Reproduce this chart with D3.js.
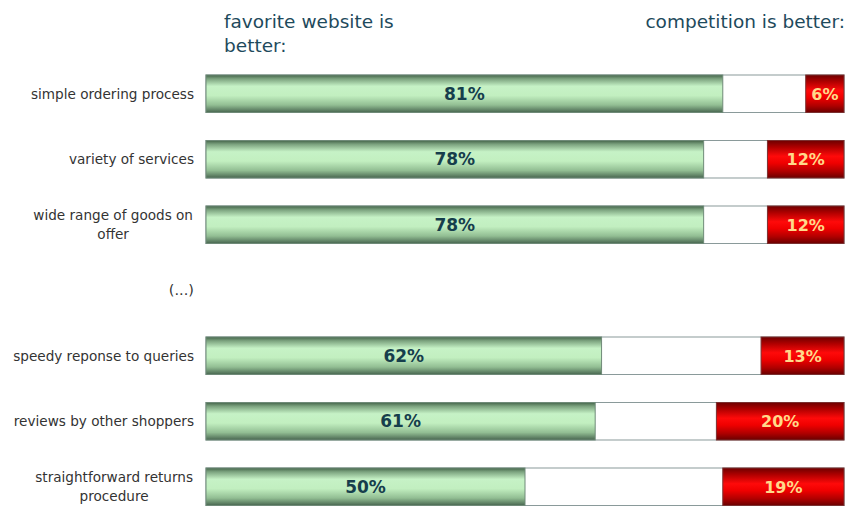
<!DOCTYPE html>
<html>
<head>
<meta charset="utf-8">
<script src="https://cdn.jsdelivr.net/npm/d3@7"></script>
<style>
  html, body { margin: 0; padding: 0; background: #fff; }
  svg { display: block; }
</style>
</head>
<body>
<svg id="chart" width="855" height="506"></svg>
<script>
// ---- data ----
const rows = ["r1", "r2", "r3", "gap", "r4", "r5", "r6"];
const labels = [
  ["simple ordering process"],
  ["variety of services"],
  ["wide range of goods on", "offer"],
  ["(...)"],
  ["speedy reponse to queries"],
  ["reviews by other shoppers"],
  ["straightforward returns", "procedure"]
];
const favorite = [81, 78, 78, null, 62, 61, 50];
const competition = [6, 12, 12, null, 13, 20, 19];
const headerLeft = ["favorite website is", "better:"];
const headerRight = ["competition is better:"];

// ---- layout ----
const svg = d3.select("#chart");
const x = d3.scaleLinear().domain([0, 100]).range([206, 844]);
const y = d3.scaleBand().domain(rows).range([75, 505.5]).paddingInner(0.4275).paddingOuter(0).align(0);
const fontFam = "'DejaVu Sans', Verdana, sans-serif";

const defs = svg.append("defs");
const g1 = defs.append("linearGradient").attr("id", "gGreen").attr("x1", 0).attr("y1", 0).attr("x2", 0).attr("y2", 1);
[[0, "#44644a"], [0.1, "#7ba27e"], [0.3, "#c6f2c6"], [0.55, "#c2efc0"], [0.8, "#92be93"], [1, "#486650"]]
  .forEach(([o, c]) => g1.append("stop").attr("offset", o).attr("stop-color", c));
const g2 = defs.append("linearGradient").attr("id", "gRed").attr("x1", 0).attr("y1", 0).attr("x2", 0).attr("y2", 1);
[[0, "#6e0000"], [0.18, "#b00000"], [0.42, "#ff0a0a"], [0.6, "#f00000"], [0.82, "#b00000"], [1, "#6a0000"]]
  .forEach(([o, c]) => g2.append("stop").attr("offset", o).attr("stop-color", c));

// headers
const hl = svg.append("text").attr("x", 224).attr("y", 28)
  .attr("font-family", fontFam).attr("font-size", 18.5).attr("fill", "#1e4a5c");
headerLeft.forEach((t, i) => hl.append("tspan").attr("x", 224).attr("dy", i ? 24 : 0).text(t));
svg.append("text").attr("x", 845).attr("y", 28).attr("text-anchor", "end")
  .attr("font-family", fontFam).attr("font-size", 18.5).attr("fill", "#1e4a5c").text(headerRight[0]);

const data = rows.map((r, i) => ({ r, lab: labels[i], fav: favorite[i], comp: competition[i] }));
const bh = y.bandwidth();

const row = svg.selectAll("g.row").data(data).join("g").attr("class", "row");

// category labels
row.each(function (d) {
  const g = d3.select(this);
  const cy = y(d.r) + bh / 2;
  const multi = d.lab.length > 1;
  const t = g.append("text")
    .attr("font-family", fontFam).attr("font-size", d.fav == null ? 14.5 : 13.6).attr("fill", "#333");
  if (multi) {
    t.attr("text-anchor", "middle");
    d.lab.forEach((s, i) => t.append("tspan").attr("dy", i ? 19 : 0).text(s));
    const fw = t.select("tspan").node().getComputedTextLength();
    const cx = 193 - fw / 2;
    t.selectAll("tspan").attr("x", cx);
    t.attr("y", cy - 4.5);
  } else {
    t.attr("text-anchor", "end").attr("x", 194).attr("y", cy + 5).text(d.lab[0]);
  }
});

const bars = row.filter(d => d.fav != null);

// white background with border
bars.append("rect")
  .attr("x", x(0)).attr("y", d => y(d.r)).attr("width", x(100) - x(0)).attr("height", bh)
  .attr("fill", "#fff").attr("stroke", "#8a9a9a").attr("stroke-width", 1);

// green
bars.append("rect")
  .attr("x", x(0)).attr("y", d => y(d.r)).attr("width", d => x(d.fav) - x(0)).attr("height", bh)
  .attr("fill", "url(#gGreen)").attr("stroke", "#6f8a78").attr("stroke-width", 1);

// red
bars.append("rect")
  .attr("x", d => x(100 - d.comp)).attr("y", d => y(d.r)).attr("width", d => x(100) - x(100 - d.comp)).attr("height", bh)
  .attr("fill", "url(#gRed)").attr("stroke", "#7a3030").attr("stroke-width", 1);

// value labels
bars.append("text")
  .attr("x", d => (x(0) + x(d.fav)) / 2).attr("y", d => y(d.r) + bh / 2 + 6)
  .attr("text-anchor", "middle").attr("font-family", fontFam)
  .attr("font-weight", "bold").attr("font-size", 17).attr("fill", "#163e4c")
  .text(d => d.fav + "%");
bars.append("text")
  .attr("x", d => (x(100 - d.comp) + x(100)) / 2).attr("y", d => y(d.r) + bh / 2 + 6)
  .attr("text-anchor", "middle").attr("font-family", fontFam)
  .attr("font-weight", "bold").attr("font-size", 16).attr("fill", "#ffd98a")
  .text(d => d.comp + "%");
</script>
</body>
</html>
